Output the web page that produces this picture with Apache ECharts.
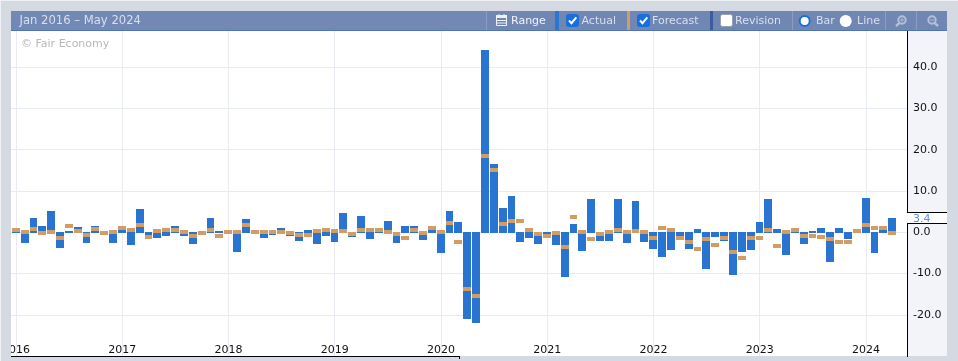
<!DOCTYPE html>
<html><head><meta charset="utf-8">
<style>html,body{margin:0;padding:0;background:#d5d9e2;overflow:hidden}#c{width:958px;height:361px}</style>
<script src="https://cdn.jsdelivr.net/npm/echarts@6/dist/echarts.min.js"></script>
</head><body><div id="c"></div>
<script>
const actual = [0.7,-2.5,3.5,1.6,5.2,-3.75,0.4,1.3,-2.5,1.6,-0.3,-2.5,
 0.6,-3,5.7,-1.2,-1.3,-0.85,1.6,-0.85,-2.8,-0.3,3.5,0.4,
 0,-4.7,3.3,0,-1.3,-0.6,1.1,-0.85,-2,0.6,-2.8,-0.85,
 -2.3,4.7,-1.1,4,-1.6,0.4,2.8,-2.5,1.6,1.6,-1.8,0.6,
 -5,5.2,2.5,-20.9,-21.9,44.2,16.6,5.9,8.8,-2.3,-1.3,-2.8,
 -0.5,-3,-10.8,2,-4.5,8.1,-2,-2,8.1,-2.5,7.6,-2.3,
 -4,-5.9,-4.2,-1.2,-4,0.85,-8.8,-1.1,-2,-10.3,-4.7,-4.2,
 2.5,8.1,0.85,-5.4,0.3,-2.8,0.4,1.1,-7.1,1.1,-1.6,0.2,
 8.3,-5,0.6,3.4];
const forecast = [0.6,0.1,0.85,-0.1,0.1,-1.3,1.6,0.4,-0.6,0.85,-0.1,0.1,
 1.1,0.6,1.8,-1.1,0.4,0.6,0.6,0.1,-0.85,-0.1,0.6,-0.85,
 0.1,0.1,1.8,0.1,0.1,0.1,0.1,-0.1,-0.6,-0.6,0.4,0.6,
 0.4,0.4,-0.4,0.6,0.6,0.6,0.1,-0.4,-1.3,0.6,-0.1,1.1,
 0.1,2.3,-2.3,-13.7,-15.4,18.5,15.1,2.1,2.8,2.8,0.6,-0.4,
 -0.85,-0.1,-3.5,3.75,0.1,-1.6,-0.4,0.1,0.6,0.1,0.4,0.1,
 -1.3,1.1,0.6,-1.3,-2.3,-4,-1.6,-3,-1.3,-4.7,-6.2,-1.3,
 -1.3,0.6,-3.3,0.1,0.6,-0.85,-0.85,-1.1,-1.6,-2.3,-2.3,0.4,
 1.8,1.1,1.1,-0.1];
const yearStarts = [0,12,24,36,48,60,72,84,96];
const yearLabels = ['2016','2017','2018','2019','2020','2021','2022','2023','2024'];
const yTicks = [-20,-10,0,10,20,30,40];
const latestActual = 3.4;
const titleText = 'Jan 2016 – May 2024';
const creditText = '© Fair Economy';

const chart = echarts.init(document.getElementById('c'), null, {renderer:'canvas'});
const bg='#d5d9e2', head='#7389b5', btn='#7087b3', sep='#8c9dc3', txt='#d9dfec', gut='#f3f4f9', ink='#000';
const font='"DejaVu Sans"';
const R=(x,y,w,h,fill,z,extra)=>Object.assign({type:'rect',shape:{x,y,width:w,height:h},style:{fill},z:z===undefined?50:z,silent:true},extra||{});
const T=(x,y,text,fill,z,size)=>({type:'text',x,y,style:{text,fill,font:'normal '+(size||11)+'px '+font,textVerticalAlign:'middle',textBaseline:'middle'},z:z===undefined?52:z,silent:true});
const L=(x1,y1,x2,y2,stroke,w,z)=>({type:'line',shape:{x1,y1,x2,y2},style:{stroke,lineWidth:w||1},z:z===undefined?51:z,silent:true});
const checkbox=(x,on)=>[
 {type:'rect',shape:{x,y:14.5,width:12,height:12,r:2},style:{fill:on?'#1a6fe0':'#fff',stroke:on?'#1a6fe0':'#9aa0aa',lineWidth:1},z:51,silent:true},
 ...(on?[{type:'polyline',shape:{points:[[x+2.5,20.5],[x+5,23.2],[x+9.8,17.4]]},style:{stroke:'#fff',fill:'none',lineWidth:2},z:52,silent:true}]:[])
];
const lensColor='#b4c0d8';
const lensPlus=(cx)=>[
 {type:'circle',shape:{cx:cx+1,cy:20,r:3.7},style:{fill:'none',stroke:lensColor,lineWidth:2},z:52,silent:true},
 L(cx-1.5,22.8,cx-5,26,lensColor,2.4,52),
 L(cx-0.8,20,cx+2.8,20,lensColor,1,52),
 L(cx+1,18.2,cx+1,21.8,lensColor,1,52)
];
const lensMinus=(cx)=>[
 {type:'circle',shape:{cx:cx-1,cy:20,r:3.7},style:{fill:'none',stroke:lensColor,lineWidth:2},z:52,silent:true},
 L(cx+1.5,22.8,cx+5,26,lensColor,2.4,52),
 L(cx-2.8,20,cx+0.8,20,lensColor,1,52)
];
const chrome=[
 R(0,0,958,1,'#eef0f3',60), R(0,0,1,361,'#eef0f3',60),
 R(1,1,957,10,bg,60), R(1,1,10,360,bg,60),
 R(947,1,11,360,bg,60),
 R(907,31,40,325,gut,-1),
 R(460,357,498,4,bg,60),
 L(907.5,31,907.5,212,ink,1,55), L(907.5,223.5,907.5,358,ink,1,55),
 L(907,212.5,947,212.5,ink,1,55), L(907,223.5,947,223.5,ink,1,55),
 R(908,213,39,10,'#ffffff',54),
 L(11,356.5,459,356.5,ink,1,55), L(459.5,356,459.5,359,ink,1,55),
 L(460,356.5,907,356.5,bg,1,54), L(907,358.5,911,358.5,ink,1,55),
 R(11,11,936,19,head,50), R(11,30,936,1,'#4f74b3',50),
 R(486,11,461,19,btn,50),
 L(486.5,11,486.5,30,sep), L(792.5,11,792.5,30,sep), L(885.5,11,885.5,30,sep), L(916.5,11,916.5,30,sep),
 R(555,11,4,19,'#2a76d2',51), R(627,11,3,19,'#d49c60',51), R(710,11,3,19,'#3d5c9d',51),
 T(19.5,21,titleText,txt,52,11.6),
 T(511,21,'Range','#f0f3f8'),
 {type:'rect',shape:{x:496.5,y:17.5,width:10,height:8},style:{fill:'none',stroke:'#eef1f6',lineWidth:1},z:52,silent:true},
 R(496,15,11,3,'#eef1f6',52), L(499,14,499,17,'#eef1f6',1,52), L(504,14,504,17,'#eef1f6',1,52),
 L(497,20.5,506,20.5,'#eef1f6',1,52), L(497,23,506,23,'#eef1f6',1,52),
 ...checkbox(566.5,true), T(581.5,21,'Actual',txt),
 ...checkbox(637.5,true), T(652,21,'Forecast',txt),
 ...checkbox(720.5,false), T(735,21,'Revision',txt),
 {type:'circle',shape:{cx:804.7,cy:21,r:5},style:{fill:'#fff',stroke:'#1a6fe0',lineWidth:2},z:52,silent:true}, T(816,21,'Bar',txt),
 {type:'circle',shape:{cx:845.7,cy:21,r:6},style:{fill:'#fff'},z:52,silent:true}, T(857,21,'Line',txt),
 ...lensPlus(901), ...lensMinus(933),
 T(21,44,creditText,'#b8b8b8',52)
];

const xs = actual.map((_,i)=>i);
chart.setOption({
 animation:false,
 backgroundColor:'transparent',
 grid:{left:11,top:31,width:896,height:325,show:true,backgroundColor:'#fff',borderWidth:0,containLabel:false,outerBoundsMode:'none'},
 xAxis:{type:'value',min:-0.565,max:100.635,position:'bottom',
  axisLine:{show:false},
  axisTick:{show:false,customValues:yearStarts},
  splitLine:{show:true,lineStyle:{color:'#e9ebf3',width:1}},
  axisLabel:{inside:true,margin:0,customValues:yearStarts,formatter:v=>yearLabels[yearStarts.indexOf(v)],color:'#111',fontFamily:font,fontSize:11,hideOverlap:false,showMinLabel:true,showMaxLabel:true,verticalAlign:'bottom',lineHeight:11}},
 yAxis:{type:'value',min:-29.95,max:48.75,position:'right',
  axisLine:{show:false},
  axisTick:{show:false,customValues:yTicks},
  splitLine:{show:true,lineStyle:{color:'#e9ebf3',width:1}},
  axisLabel:{margin:6,padding:[4,0,0,0],customValues:yTicks,formatter:v=>v.toFixed(1),color:'#111',fontFamily:font,fontSize:11,hideOverlap:false,showMinLabel:true,showMaxLabel:true}},
 series:[
  {type:'custom',name:'Actual',data:xs.map(i=>[i,actual[i]]),z:2,silent:true,clip:true,
   renderItem:(p,api)=>{const i=api.value(0),v=api.value(1);
    const left=Math.round(api.coord([i,v])[0]-4.2), next=Math.round(api.coord([i+1,v])[0]-4.2)-1;
    const y0=Math.floor(api.coord([i,0])[1]), yv=Math.round(api.coord([i,v])[1]);
    const top=v>0?yv:y0, bottom=v>0?y0+1:Math.max(yv,y0+1);
    return {type:'rect',shape:{x:left,y:top,width:Math.min(8,next-left),height:bottom-top},style:{fill:'#2874d0'}};}},
  {type:'custom',name:'Forecast',data:xs.map(i=>[i,forecast[i]]),z:3,silent:true,clip:true,
   renderItem:(p,api)=>{const i=api.value(0),c=api.coord([i,api.value(1)]);
    const left=Math.round(c[0]-4.2), next=Math.round(api.coord([i+1,0])[0]-4.2)-1;
    return {type:'rect',shape:{x:left,y:Math.round(c[1]-2),width:Math.min(8,next-left),height:4},style:{fill:'#d49c60'}};}}
 ],
 graphic:{elements:chrome}
});
const tagY = chart.convertToPixel({yAxisIndex:0}, latestActual);
chart.setOption({graphic:{elements:chrome.concat([T(913,tagY+1,latestActual.toFixed(1),'#5f8fd8',56)])}});
</script></body></html>
